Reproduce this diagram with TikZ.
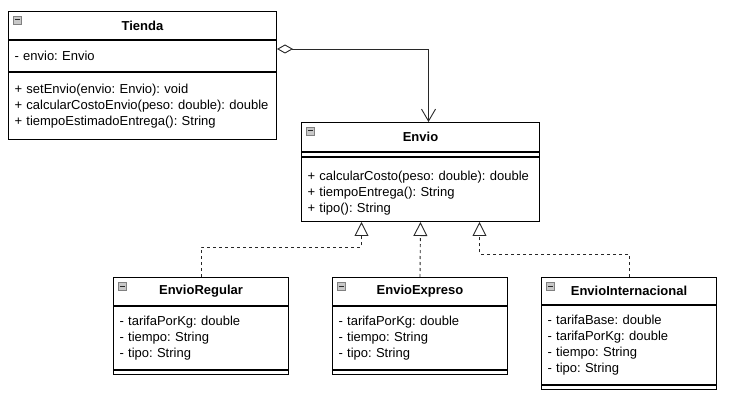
\documentclass[tikz,border=0pt]{standalone}
\usepackage{fontspec}
\setmainfont{Liberation Sans}
\frenchspacing
\usetikzlibrary{arrows.meta}

\definecolor{umlline}{RGB}{40,40,40}
\definecolor{iconfill}{RGB}{200,200,200}

\tikzset{
	every node/.style={font=\fontsize{13}{16}\selectfont},
	classname/.style={draw=black, line width=1pt, anchor=north west, inner sep=0pt,
		minimum width=#1, minimum height=28, font=\fontsize{13}{16}\selectfont\bfseries},
	classpart/.style={draw=black, line width=1pt, anchor=north west, inner ysep=0pt,
		inner xsep=6pt, text width=#1-12pt, align=left},
	realize/.style={draw=umlline, line width=0.9pt, dash pattern=on 3pt off 3pt,
		-{Triangle[open, length=14pt, width=14pt, fill=white]}},
	holds/.style={draw=umlline, line width=0.9pt,
		{Diamond[open, length=16pt, width=9pt, fill=white]}-{Straight Barb[length=12pt, width=14pt]}}
}

\begin{document}
\begin{tikzpicture}[x=1pt, y=-1pt]
	\useasboundingbox (0,0) rectangle (749,403);

	% Tienda
	\node[classname=268] (tienda) at (8,11) {Tienda};
	\node[classpart=268, minimum height=31] (tiendaAttr) at (tienda.south west) {- envio: Envio};
	\node[classpart=268, minimum height=67] (tiendaOps) at (tiendaAttr.south west)
		{+ setEnvio(envio: Envio): void\\
		 + calcularCostoEnvio(peso: double): double\\
		 + tiempoEstimadoEntrega(): String};

	% Envio
	\node[classname=238, minimum height=29] (envio) at (301,122) {Envio};
	\node[classpart=238, minimum height=4] (envioAttr) at (envio.south west) {};
	\node[classpart=238, minimum height=64] (envioOps) at (envioAttr.south west)
		{\rule{0pt}{17pt}+ calcularCosto(peso: double): double\\
		 + tiempoEntrega(): String\\
		 + tipo(): String};

	% EnvioRegular
	\node[classname=175] (regular) at (113,277) {EnvioRegular};
	\node[classpart=175, minimum height=63] (regularAttr) at (regular.south west)
		{- tarifaPorKg: double\\
		 - tiempo: String\\
		 - tipo: String};
	\node[classpart=175, minimum height=4] (regularOps) at (regularAttr.south west) {};

	% EnvioExpreso
	\node[classname=175] (expreso) at (332,277) {EnvioExpreso};
	\node[classpart=175, minimum height=63] (expresoAttr) at (expreso.south west)
		{- tarifaPorKg: double\\
		 - tiempo: String\\
		 - tipo: String};
	\node[classpart=175, minimum height=4] (expresoOps) at (expresoAttr.south west) {};

	% EnvioInternacional
	\node[classname=175, minimum height=27] (inter) at (541,277) {EnvioInternacional};
	\node[classpart=175, minimum height=79] (interAttr) at (inter.south west)
		{- tarifaBase: double\\
		 - tarifaPorKg: double\\
		 - tiempo: String\\
		 - tipo: String};
	\node[classpart=175, minimum height=4] (interOps) at (interAttr.south west) {};

	% collapse icons
	\foreach \c in {tienda, envio, regular, expreso, inter} {
		\filldraw[fill=iconfill, draw=gray, line width=0.5pt] ([shift={(5,5)}]\c.north west) rectangle ++(8,8);
		\draw[umlline, line width=1pt] ([shift={(6.5,9)}]\c.north west) -- ++(5,0);
	}

	% relations
	\draw[holds] ([yshift=-9pt]tiendaAttr.north east) -| ([xshift=8pt]envio.north);
	\draw[realize] (regular.north) -- ++(0,-30) -| ([xshift=-59pt]envioOps.south);
	\draw[realize] (expreso.north) -- (envioOps.south);
	\draw[realize] (inter.north) -- ++(0,-23) -| ([xshift=59pt]envioOps.south);
\end{tikzpicture}
\end{document}
